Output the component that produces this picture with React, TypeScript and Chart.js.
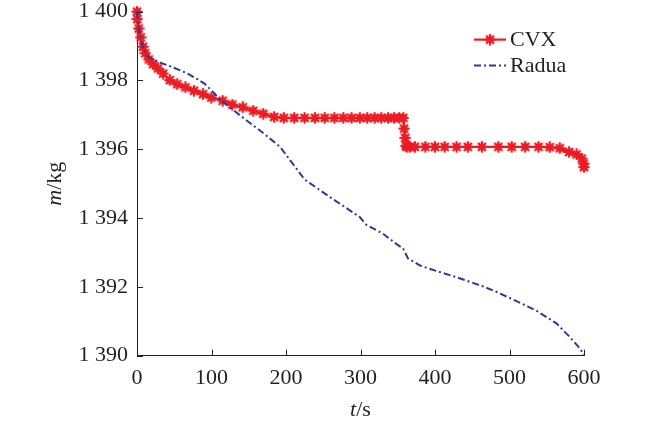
import React, { useEffect, useRef } from "react";
import { Chart, registerables } from "chart.js";

Chart.register(...registerables);

// CVX (red, star markers)
const cvxT = [
  0, 0.4, 2.3, 5, 8, 11, 15.7, 21.5, 28, 35, 44, 54, 65, 76.5, 88.6, 99.7,
  115, 128, 142, 156, 169.5, 184, 197, 211, 225, 239, 252, 265, 277, 288,
  299, 309, 319, 328, 337, 345, 352, 357.5, 358.5, 360, 361, 362, 366, 373,
  387, 400, 413, 429, 444, 463, 485, 503, 521, 539, 554, 567.5, 580, 590,
  597, 599.5, 600,
];
const cvxM = [
  1400, 1399.78, 1399.51, 1399.25, 1398.98, 1398.79, 1398.61, 1398.47,
  1398.35, 1398.2, 1398.01, 1397.89, 1397.8, 1397.7, 1397.6, 1397.5, 1397.41,
  1397.3, 1397.22, 1397.12, 1397.03, 1396.94, 1396.91, 1396.91, 1396.91,
  1396.91, 1396.91, 1396.91, 1396.91, 1396.91, 1396.91, 1396.91, 1396.91,
  1396.91, 1396.91, 1396.91, 1396.91, 1396.91, 1396.6, 1396.33, 1396.1,
  1396.07, 1396.07, 1396.07, 1396.07, 1396.07, 1396.07, 1396.07, 1396.07,
  1396.07, 1396.07, 1396.07, 1396.07, 1396.07, 1396.06, 1396.03, 1395.92,
  1395.85, 1395.73, 1395.58, 1395.48,
];

// Radua (blue, dash-dot)
const raduaT = [
  0, 2, 5, 9, 15, 28, 46, 68, 80, 91, 104, 111, 138, 170, 192, 225, 259, 299,
  308, 330, 348, 357, 364, 380, 402, 429, 465, 483, 510, 536, 563, 581, 595,
  600,
];
const raduaM = [
  1400, 1399.6, 1399.2, 1398.9, 1398.69, 1398.54, 1398.4, 1398.2, 1398.05,
  1397.9, 1397.62, 1397.45, 1396.99, 1396.46, 1396.07, 1395.12, 1394.61,
  1394.03, 1393.8, 1393.55, 1393.25, 1393.12, 1392.82, 1392.62, 1392.46,
  1392.28, 1392.01, 1391.85, 1391.58, 1391.31, 1390.94, 1390.54, 1390.2,
  1390.0,
];

const xTicks = [0, 100, 200, 300, 400, 500, 600];
const xTickLabels = ["0", "100", "200", "300", "400", "500", "600"];
const yTicks = [1390, 1392, 1394, 1396, 1398, 1400];
const yTickLabels = ["1 390", "1 392", "1 394", "1 396", "1 398", "1 400"];

const seriesNames = ["CVX", "Radua"];

const RED = "#ec1c24";
const BLUE = "#2f3a8f";
const FONT = "'Liberation Serif', 'Times New Roman', serif";
const DASH = [7, 3, 2, 3];

function makeStar(): HTMLCanvasElement {
  const s = 12;
  const c = document.createElement("canvas");
  c.width = s;
  c.height = s;
  const ctx = c.getContext("2d")!;
  const cx = s / 2;
  ctx.strokeStyle = RED;
  ctx.fillStyle = RED;
  ctx.lineWidth = 2.2;
  ctx.lineCap = "round";
  for (let i = 0; i < 8; i++) {
    const a = (i * Math.PI) / 4;
    ctx.beginPath();
    ctx.moveTo(cx, cx);
    ctx.lineTo(cx + Math.cos(a) * 4.8, cx + Math.sin(a) * 4.8);
    ctx.stroke();
  }
  ctx.beginPath();
  ctx.arc(cx, cx, 3.6, 0, Math.PI * 2);
  ctx.fill();
  return c;
}

export default function App() {
  const ref = useRef<HTMLCanvasElement | null>(null);

  useEffect(() => {
    if (!ref.current) return;
    const star = makeStar();

    const decorPlugin = {
      id: "decor",
      afterDatasetsDraw(chart: any) {
        const ctx = chart.ctx;
        const area = chart.chartArea;
        const xs = chart.scales.x;
        const ys = chart.scales.y;
        ctx.save();
        // inward tick marks
        ctx.strokeStyle = "#231f20";
        ctx.lineWidth = 1;
        ctx.beginPath();
        for (const v of yTicks) {
          const py = Math.round(ys.getPixelForValue(v)) + 0.5;
          ctx.moveTo(area.left, py);
          ctx.lineTo(area.left + 6, py);
        }
        for (const v of xTicks) {
          const px = Math.round(xs.getPixelForValue(v)) + 0.5;
          ctx.moveTo(px, area.bottom);
          ctx.lineTo(px, area.bottom - 6);
        }
        ctx.stroke();

        // axis titles
        ctx.fillStyle = "#231f20";
        ctx.textBaseline = "middle";
        const xt1 = "t";
        const xt2 = "/s";
        ctx.font = `italic 22px ${FONT}`;
        const w1 = ctx.measureText(xt1).width;
        ctx.font = `22px ${FONT}`;
        const w2 = ctx.measureText(xt2).width;
        const cxT = (area.left + area.right) / 2;
        const yT = area.bottom + 55;
        ctx.textAlign = "left";
        ctx.font = `italic 22px ${FONT}`;
        ctx.fillText(xt1, cxT - (w1 + w2) / 2, yT);
        ctx.font = `22px ${FONT}`;
        ctx.fillText(xt2, cxT - (w1 + w2) / 2 + w1, yT);

        ctx.save();
        ctx.translate(area.left - 82, (area.top + area.bottom) / 2);
        ctx.rotate(-Math.PI / 2);
        ctx.font = `italic 22px ${FONT}`;
        const m1 = ctx.measureText("m").width;
        ctx.font = `22px ${FONT}`;
        const m2 = ctx.measureText("/kg").width;
        ctx.font = `italic 22px ${FONT}`;
        ctx.fillText("m", -(m1 + m2) / 2, 0);
        ctx.font = `22px ${FONT}`;
        ctx.fillText("/kg", -(m1 + m2) / 2 + m1, 0);
        ctx.restore();

        // legend
        const lx0 = area.right - 110;
        const lx1 = area.right - 78;
        const ly1 = area.top + 28;
        const ly2 = area.top + 54;
        ctx.strokeStyle = RED;
        ctx.lineWidth = 2.2;
        ctx.setLineDash([]);
        ctx.beginPath();
        ctx.moveTo(lx0, ly1);
        ctx.lineTo(lx1, ly1);
        ctx.stroke();
        ctx.drawImage(star, (lx0 + lx1) / 2 - 6, ly1 - 6);
        ctx.strokeStyle = BLUE;
        ctx.lineWidth = 2;
        ctx.setLineDash(DASH);
        ctx.beginPath();
        ctx.moveTo(lx0, ly2);
        ctx.lineTo(lx1, ly2);
        ctx.stroke();
        ctx.setLineDash([]);
        ctx.fillStyle = "#231f20";
        ctx.font = `22px ${FONT}`;
        ctx.textAlign = "left";
        ctx.fillText(seriesNames[0], lx1 + 4, ly1 + 1);
        ctx.fillText(seriesNames[1], lx1 + 4, ly2 + 1);
        ctx.restore();
      },
    };

    const chart = new Chart(ref.current, {
      type: "line",
      data: {
        datasets: [
          {
            label: seriesNames[1],
            data: raduaT.map((t, i) => ({ x: t, y: raduaM[i] })),
            borderColor: BLUE,
            borderWidth: 2,
            borderDash: DASH,
            pointRadius: 0,
            tension: 0,
            clip: false as any,
          },
          {
            label: seriesNames[0],
            data: cvxT.map((t, i) => ({ x: t, y: cvxM[i] })),
            borderColor: RED,
            borderWidth: 2.4,
            pointStyle: star as any,
            pointRadius: 5,
            tension: 0,
            clip: false as any,
          },
        ],
      },
      options: {
        animation: false,
        responsive: false,
        devicePixelRatio: 1,
        layout: { padding: { left: 0, right: 66, top: 11.6, bottom: 0 } },
        plugins: {
          legend: { display: false },
          tooltip: { enabled: false },
        },
        scales: {
          x: {
            type: "linear",
            min: 0,
            max: 600,
            grid: { display: false, drawTicks: false },
            border: { display: true, color: "#231f20", width: 1 },
            afterBuildTicks: (s: any) => {
              s.ticks = xTicks.map((v) => ({ value: v }));
            },
            afterFit: (s: any) => {
              s.height = 71.3;
              s.paddingLeft = 0;
              s.paddingRight = 0;
            },
            ticks: {
              padding: 9,
              color: "#231f20",
              font: { family: FONT, size: 22 },
              maxRotation: 0,
              callback: (v: any) => {
                const i = xTicks.indexOf(Number(v));
                return i >= 0 ? xTickLabels[i] : "";
              },
            },
          },
          y: {
            type: "linear",
            min: 1390,
            max: 1400,
            grid: { display: false, drawTicks: false },
            border: { display: true, color: "#231f20", width: 1 },
            afterBuildTicks: (s: any) => {
              s.ticks = yTicks.map((v) => ({ value: v }));
            },
            afterFit: (s: any) => {
              s.width = 137;
              s.paddingTop = 0;
              s.paddingBottom = 0;
            },
            ticks: {
              padding: 9,
              color: "#231f20",
              font: { family: FONT, size: 22 },
              callback: (v: any) => {
                const i = yTicks.indexOf(Number(v));
                return i >= 0 ? yTickLabels[i] : "";
              },
            },
          },
        },
      },
      plugins: [decorPlugin],
    });
    return () => chart.destroy();
  }, []);

  return (
    <div
      style={{
        position: "fixed",
        left: 0,
        top: 0,
        width: 650,
        height: 427,
        background: "#fff",
      }}
    >
      <canvas ref={ref} width={650} height={427} style={{ width: 650, height: 427 }} />
    </div>
  );
}
